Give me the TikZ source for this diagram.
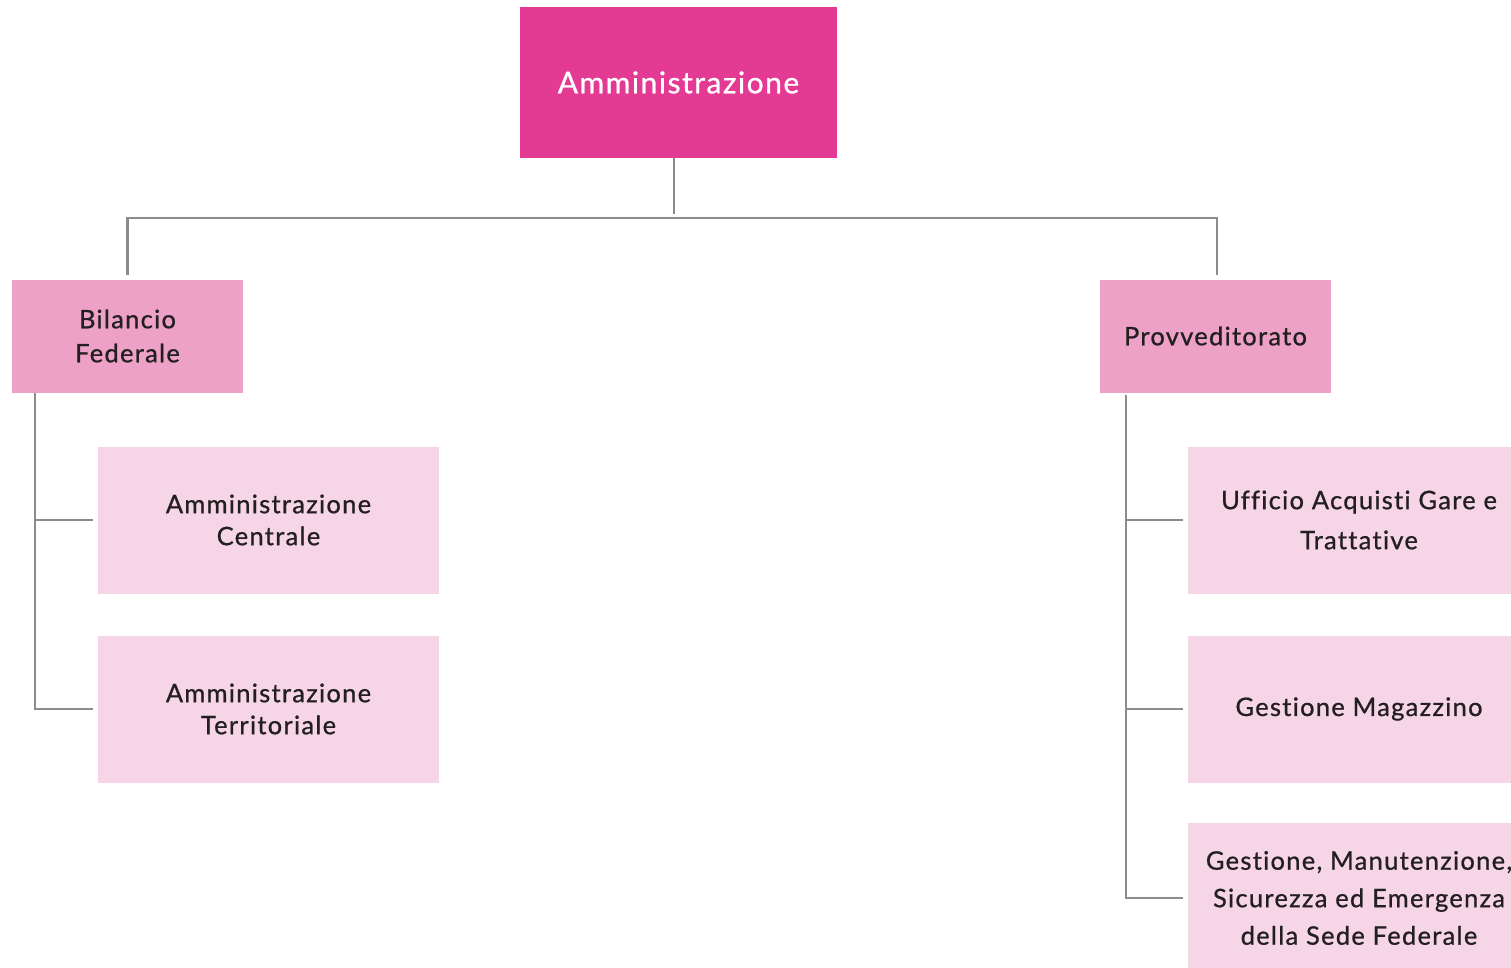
\documentclass[tikz,border=0pt]{standalone}
\usepackage{fontspec}
\setmainfont{Lato}[LetterSpace=5, FakeBold=0.8, Ligatures=NoCommon]
\definecolor{topc}{HTML}{E33A93}
\definecolor{midc}{HTML}{EDA1C6}
\definecolor{lowc}{HTML}{F5D5E6}
\definecolor{linec}{HTML}{8C8C8F}
\definecolor{txt}{HTML}{231F20}
\tikzset{
  box/.style={rectangle, inner sep=0pt, align=center, text=txt},
  topbox/.style={box, fill=topc, text=white, font=\fontsize{30}{36}\selectfont},
  midbox/.style={box, fill=midc, font=\fontsize{25.5}{34}\selectfont},
  lowbox/.style={box, fill=lowc, font=\fontsize{25.5}{32}\selectfont},
  conn/.style={draw=linec, line width=2.6pt}
}
\begin{document}
\begin{tikzpicture}[x=1pt,y=-1pt]
\clip (0,0) rectangle (1511,968);
\fill[white] (0,0) rectangle (1511,968);
% nodes
\node[topbox, minimum width=317pt, minimum height=151pt] (top) at (678.5,82.5) {Amministrazione};
\node[midbox, minimum width=231pt, minimum height=113pt] (bil) at (127.5,336) {Bilancio\\Federale};
\node[midbox, minimum width=231pt, minimum height=113pt] (prov) at (1215.5,336) {Provveditorato};
\node[lowbox, minimum width=341pt, minimum height=147pt] (ac) at (268.5,520) {Amministrazione\\Centrale};
\node[lowbox, minimum width=341pt, minimum height=147pt] (at) at (268.5,709) {Amministrazione\\Territoriale};
\node[lowbox, minimum width=342pt, minimum height=147pt, font=\fontsize{25.5}{40}\selectfont] (uf) at (1359,520) {Ufficio Acquisti Gare e\\Trattative};
\node[lowbox, minimum width=342pt, minimum height=147pt] (gm) at (1359,709) {Gestione Magazzino};
\node[lowbox, minimum width=342pt, minimum height=150pt, font=\fontsize{25.5}{37.5}\selectfont] (gs) at (1359,898) {Gestione, Manutenzione,\\Sicurezza ed Emergenza\\della Sede Federale};
% connectors
\coordinate (tt) at ([xshift=-4.5pt]top.south);
\draw[conn] (tt) -- ++(0,56);
\draw[conn, shorten >=4pt] (tt) ++(0,60) -| (bil.north);
\draw[conn, shorten >=4pt] (tt) ++(0,60) -| ([xshift=1.5pt]prov.north);
\coordinate (bt) at ([xshift=23pt]bil.south west);
\draw[conn, shorten >=5pt] (bt) |- (ac.west);
\draw[conn, shorten >=5pt] (bt) |- (at.west);
\coordinate (pt) at ([xshift=26pt,yshift=-2pt]prov.south west);
\draw[conn, shorten >=5pt] (pt) |- (uf.west);
\draw[conn, shorten >=5pt] (pt) |- (gm.west);
\draw[conn, shorten >=5pt] (pt) |- (gs.west);
\end{tikzpicture}
\end{document}
